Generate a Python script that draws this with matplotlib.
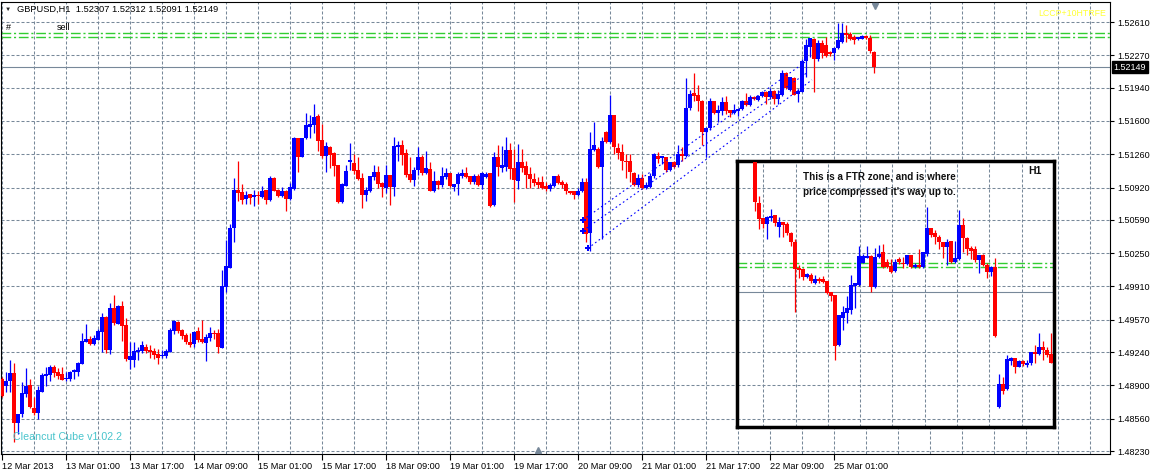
import numpy as np
import matplotlib
matplotlib.use('Agg')
from matplotlib import pyplot as plt
from matplotlib.transforms import blended_transform_factory

plt.rcParams['font.family'] = ['Liberation Sans', 'DejaVu Sans']

W, H = 1155, 475

# GBPUSD H1, bar 0 = 12 Mar 2013 09:00
opens = [
    1.4897, 1.4889, 1.4894, 1.4903, 1.4852, 1.4861, 1.4881, 1.4890, 1.4867, 1.4862,
    1.4883, 1.4900, 1.4901, 1.4909, 1.4904, 1.4902, 1.4897, 1.4897, 1.4904, 1.4904,
    1.4912, 1.4934, 1.4937, 1.4932, 1.4936, 1.4945, 1.4960, 1.4926, 1.4969, 1.4953,
    1.4971, 1.4952, 1.4916, 1.4916, 1.4924, 1.4925, 1.4929, 1.4926, 1.4925, 1.4922,
    1.4920, 1.4920, 1.4924, 1.4946, 1.4955, 1.4947, 1.4941, 1.4934, 1.4932, 1.4946,
    1.4937, 1.4933, 1.4938, 1.4943, 1.4944, 1.4928, 1.4990, 1.5010, 1.5051, 1.5090,
    1.5087, 1.5080, 1.5085, 1.5082, 1.5084, 1.5082, 1.5090, 1.5079, 1.5102, 1.5090,
    1.5083, 1.5088, 1.5080, 1.5091, 1.5143, 1.5123, 1.5143, 1.5154, 1.5156, 1.5165,
    1.5141, 1.5124, 1.5133, 1.5127, 1.5115, 1.5077, 1.5094, 1.5118, 1.5117, 1.5110,
    1.5102, 1.5084, 1.5089, 1.5103, 1.5108, 1.5097, 1.5092, 1.5105, 1.5093, 1.5133,
    1.5135, 1.5127, 1.5106, 1.5100, 1.5110, 1.5123, 1.5107, 1.5111, 1.5089, 1.5099,
    1.5095, 1.5103, 1.5107, 1.5093, 1.5096, 1.5104, 1.5107, 1.5104, 1.5098, 1.5104,
    1.5095, 1.5103, 1.5107, 1.5074, 1.5123, 1.5112, 1.5113, 1.5130, 1.5112, 1.5099,
    1.5118, 1.5114, 1.5106, 1.5101, 1.5098, 1.5098, 1.5094, 1.5091, 1.5094, 1.5104,
    1.5098, 1.5096, 1.5089, 1.5088, 1.5084, 1.5088, 1.5098, 1.5046, 1.5130, 1.5131,
    1.5113, 1.5149, 1.5139, 1.5166, 1.5132, 1.5128, 1.5119, 1.5119, 1.5107, 1.5095,
    1.5102, 1.5092, 1.5093, 1.5104, 1.5124, 1.5122, 1.5123, 1.5110, 1.5118, 1.5115,
    1.5126, 1.5124, 1.5173, 1.5189, 1.5186, 1.5180, 1.5149, 1.5153, 1.5180, 1.5168,
    1.5170, 1.5179, 1.5171, 1.5168, 1.5170, 1.5172, 1.5180, 1.5176, 1.5184, 1.5181,
    1.5185, 1.5190, 1.5184, 1.5191, 1.5182, 1.5187, 1.5209, 1.5192, 1.5204, 1.5188,
    1.5190, 1.5221, 1.5236, 1.5244, 1.5223, 1.5240, 1.5238, 1.5230, 1.5229, 1.5235,
    1.5241, 1.5250, 1.5249, 1.5246, 1.5244, 1.5244, 1.5247, 1.5245, 1.52307]
highs = [
    1.4899, 1.4904, 1.4916, 1.4913, 1.4861, 1.4893, 1.4908, 1.4897, 1.4878, 1.4889,
    1.4903, 1.4909, 1.4911, 1.4911, 1.4908, 1.4909, 1.4904, 1.4905, 1.4907, 1.4914,
    1.4944, 1.4953, 1.4940, 1.4941, 1.4948, 1.4964, 1.4961, 1.4974, 1.4982, 1.4972,
    1.4976, 1.4959, 1.4934, 1.4934, 1.4929, 1.4935, 1.4932, 1.4931, 1.4928, 1.4927,
    1.4926, 1.4927, 1.4949, 1.4957, 1.4956, 1.4948, 1.4943, 1.4943, 1.4946, 1.4950,
    1.4957, 1.4942, 1.4950, 1.4947, 1.4948, 1.5008, 1.5038, 1.5055, 1.5102, 1.5119,
    1.5096, 1.5088, 1.5085, 1.5090, 1.5089, 1.5094, 1.5090, 1.5104, 1.5103, 1.5091,
    1.5093, 1.5090, 1.5097, 1.5144, 1.5143, 1.5143, 1.5168, 1.5166, 1.5177, 1.5167,
    1.5157, 1.5139, 1.5134, 1.5128, 1.5115, 1.5097, 1.5115, 1.5137, 1.5126, 1.5123,
    1.5107, 1.5093, 1.5104, 1.5115, 1.5114, 1.5098, 1.5115, 1.5105, 1.5144, 1.5140,
    1.5141, 1.5131, 1.5123, 1.5113, 1.5133, 1.5125, 1.5129, 1.5118, 1.5109, 1.5100,
    1.5113, 1.5112, 1.5107, 1.5096, 1.5108, 1.5111, 1.5113, 1.5104, 1.5106, 1.5106,
    1.5108, 1.5108, 1.5107, 1.5128, 1.5135, 1.5134, 1.5144, 1.5138, 1.5131, 1.5136,
    1.5131, 1.5119, 1.5113, 1.5107, 1.5103, 1.5104, 1.5098, 1.5097, 1.5104, 1.5106,
    1.5100, 1.5098, 1.5089, 1.5088, 1.5092, 1.5102, 1.5102, 1.5149, 1.5159, 1.5133,
    1.5144, 1.5150, 1.5186, 1.5166, 1.5138, 1.5136, 1.5126, 1.5126, 1.5108, 1.5106,
    1.5106, 1.5098, 1.5107, 1.5127, 1.5128, 1.5124, 1.5123, 1.5118, 1.5119, 1.5135,
    1.5133, 1.5204, 1.5192, 1.5209, 1.5197, 1.5181, 1.5154, 1.5183, 1.5180, 1.5176,
    1.5184, 1.5185, 1.5171, 1.5177, 1.5172, 1.5181, 1.5189, 1.5187, 1.5185, 1.5186,
    1.5191, 1.5191, 1.5194, 1.5192, 1.5192, 1.5212, 1.5210, 1.5205, 1.5205, 1.5193,
    1.5223, 1.5244, 1.5245, 1.5245, 1.5243, 1.5243, 1.5246, 1.5231, 1.5236, 1.5260,
    1.5260, 1.5258, 1.5251, 1.5248, 1.5246, 1.5248, 1.5248, 1.5248, 1.52312]
lows = [
    1.4878, 1.4883, 1.4883, 1.4832, 1.4840, 1.4858, 1.4878, 1.4867, 1.4860, 1.4856,
    1.4883, 1.4889, 1.4895, 1.4899, 1.4897, 1.4896, 1.4895, 1.4895, 1.4897, 1.4900,
    1.4912, 1.4934, 1.4931, 1.4931, 1.4936, 1.4924, 1.4923, 1.4922, 1.4952, 1.4953,
    1.4935, 1.4915, 1.4907, 1.4909, 1.4916, 1.4923, 1.4923, 1.4918, 1.4917, 1.4912,
    1.4918, 1.4918, 1.4924, 1.4942, 1.4944, 1.4937, 1.4932, 1.4929, 1.4929, 1.4934,
    1.4933, 1.4915, 1.4935, 1.4937, 1.4923, 1.4928, 1.4985, 1.5010, 1.5036, 1.5078,
    1.5075, 1.5075, 1.5075, 1.5073, 1.5075, 1.5081, 1.5075, 1.5078, 1.5088, 1.5082,
    1.5082, 1.5068, 1.5079, 1.5090, 1.5108, 1.5123, 1.5142, 1.5143, 1.5148, 1.5129,
    1.5122, 1.5108, 1.5112, 1.5104, 1.5076, 1.5076, 1.5094, 1.5110, 1.5106, 1.5100,
    1.5071, 1.5078, 1.5087, 1.5100, 1.5092, 1.5082, 1.5086, 1.5074, 1.5083, 1.5119,
    1.5115, 1.5103, 1.5098, 1.5094, 1.5105, 1.5105, 1.5106, 1.5088, 1.5087, 1.5091,
    1.5093, 1.5101, 1.5093, 1.5089, 1.5084, 1.5102, 1.5102, 1.5096, 1.5096, 1.5094,
    1.5091, 1.5102, 1.5072, 1.5073, 1.5104, 1.5108, 1.5109, 1.5101, 1.5077, 1.5091,
    1.5108, 1.5092, 1.5092, 1.5094, 1.5092, 1.5091, 1.5088, 1.5088, 1.5093, 1.5096,
    1.5092, 1.5085, 1.5085, 1.5080, 1.5083, 1.5087, 1.5036, 1.5027, 1.5129, 1.5112,
    1.5039, 1.5138, 1.5137, 1.5126, 1.5121, 1.5110, 1.5102, 1.5098, 1.5094, 1.5093,
    1.5091, 1.5091, 1.5092, 1.5102, 1.5117, 1.5116, 1.5108, 1.5109, 1.5112, 1.5113,
    1.5119, 1.5123, 1.5171, 1.5180, 1.5170, 1.5135, 1.5123, 1.5151, 1.5167, 1.5159,
    1.5166, 1.5167, 1.5164, 1.5167, 1.5165, 1.5171, 1.5175, 1.5175, 1.5181, 1.5180,
    1.5184, 1.5177, 1.5182, 1.5177, 1.5177, 1.5185, 1.5193, 1.5191, 1.5186, 1.5179,
    1.5190, 1.5205, 1.5225, 1.5190, 1.5221, 1.5224, 1.5225, 1.5226, 1.5222, 1.5233,
    1.5240, 1.5241, 1.5243, 1.5239, 1.5243, 1.5244, 1.5244, 1.5229, 1.52091]
closes = [
    1.4879, 1.4895, 1.4903, 1.4852, 1.4861, 1.4882, 1.4889, 1.4868, 1.4862, 1.4885,
    1.4901, 1.4902, 1.4909, 1.4903, 1.4900, 1.4896, 1.4898, 1.4904, 1.4906, 1.4913,
    1.4935, 1.4937, 1.4932, 1.4938, 1.4946, 1.4960, 1.4926, 1.4969, 1.4954, 1.4971,
    1.4951, 1.4917, 1.4920, 1.4925, 1.4926, 1.4931, 1.4925, 1.4924, 1.4921, 1.4918,
    1.4921, 1.4925, 1.4947, 1.4956, 1.4946, 1.4940, 1.4934, 1.4931, 1.4945, 1.4936,
    1.4934, 1.4939, 1.4944, 1.4942, 1.4929, 1.4991, 1.5012, 1.5051, 1.5090, 1.5086,
    1.5079, 1.5084, 1.5081, 1.5084, 1.5083, 1.5089, 1.5079, 1.5102, 1.5089, 1.5083,
    1.5088, 1.5080, 1.5093, 1.5143, 1.5123, 1.5143, 1.5156, 1.5157, 1.5164, 1.5140,
    1.5124, 1.5134, 1.5125, 1.5114, 1.5077, 1.5096, 1.5109, 1.5120, 1.5109, 1.5101,
    1.5084, 1.5090, 1.5104, 1.5108, 1.5096, 1.5093, 1.5105, 1.5093, 1.5134, 1.5135,
    1.5125, 1.5105, 1.5100, 1.5110, 1.5123, 1.5107, 1.5112, 1.5089, 1.5099, 1.5095,
    1.5104, 1.5107, 1.5094, 1.5096, 1.5106, 1.5107, 1.5103, 1.5098, 1.5104, 1.5095,
    1.5107, 1.5106, 1.5073, 1.5123, 1.5113, 1.5115, 1.5130, 1.5111, 1.5100, 1.5118,
    1.5112, 1.5105, 1.5101, 1.5097, 1.5095, 1.5092, 1.5091, 1.5095, 1.5104, 1.5097,
    1.5095, 1.5088, 1.5086, 1.5084, 1.5089, 1.5098, 1.5045, 1.5131, 1.5135, 1.5113,
    1.5140, 1.5139, 1.5166, 1.5133, 1.5127, 1.5119, 1.5118, 1.5108, 1.5095, 1.5102,
    1.5092, 1.5095, 1.5104, 1.5126, 1.5121, 1.5124, 1.5110, 1.5118, 1.5113, 1.5126,
    1.5124, 1.5173, 1.5188, 1.5185, 1.5180, 1.5149, 1.5153, 1.5180, 1.5168, 1.5171,
    1.5179, 1.5170, 1.5168, 1.5171, 1.5172, 1.5180, 1.5176, 1.5184, 1.5182, 1.5185,
    1.5190, 1.5184, 1.5191, 1.5182, 1.5188, 1.5209, 1.5194, 1.5205, 1.5187, 1.5191,
    1.5221, 1.5238, 1.5245, 1.5223, 1.5240, 1.5229, 1.5226, 1.5228, 1.5235, 1.5243,
    1.5250, 1.5248, 1.5244, 1.5243, 1.5246, 1.5247, 1.5245, 1.5231, 1.52149]

price_ticks = [1.52610, 1.52270, 1.51940, 1.51600, 1.51260, 1.50920, 1.50590,
               1.50250, 1.49910, 1.49570, 1.49240, 1.48900, 1.48560, 1.48230]
time_ticks = [0, 16, 32, 48, 64, 80, 96, 112, 128, 144, 160, 176, 192, 208]
time_labels = ['12 Mar 2013', '13 Mar 01:00', '13 Mar 17:00', '14 Mar 09:00',
               '15 Mar 01:00', '15 Mar 17:00', '18 Mar 09:00', '19 Mar 01:00',
               '19 Mar 17:00', '20 Mar 09:00', '21 Mar 01:00', '21 Mar 17:00',
               '22 Mar 09:00', '25 Mar 01:00']
last_price = 1.52149
header = 'GBPUSD,H1  1.52307 1.52312 1.52091 1.52149'
green_levels = [1.5250, 1.5246]

# dotted channel lines: (bar, price) -> (bar, price)
channel_start_bar = [145.25, 145.25, 146.5]
channel_start_price = [1.5059, 1.5048, 1.5030]
channel_end_bar = [200.75, 201.5, 202.5]
channel_end_price = [1.5220, 1.5210, 1.5202]

# pasted H1 screenshot inside the box
inset_opens = [
    1.5118, 1.5076, 1.5061, 1.5055, 1.5061, 1.5064, 1.5052, 1.5057, 1.5055, 1.5046,
    1.5036, 1.5010, 1.5009, 1.5001, 1.5003, 1.4995, 1.4999, 1.4999, 1.4997, 1.4985,
    1.4982, 1.4931, 1.4959, 1.4964, 1.4967, 1.4992, 1.4993, 1.5015, 1.5020, 1.5022,
    1.4990, 1.5021, 1.5026, 1.5016, 1.5012, 1.5007, 1.5019, 1.5015, 1.5014, 1.5023,
    1.5011, 1.5013, 1.5011, 1.5024, 1.5051, 1.5046, 1.5042, 1.5036, 1.5031, 1.5037,
    1.5016, 1.5019, 1.5054, 1.5041, 1.5030, 1.5029, 1.5018, 1.5023, 1.5013, 1.5006,
    1.5011, 1.4868, 1.4891, 1.4886, 1.4915, 1.4918, 1.4909, 1.4915, 1.4911, 1.4913,
    1.4924, 1.4922, 1.4929, 1.4926, 1.4922]
inset_highs = [
    1.5118, 1.5083, 1.5061, 1.5063, 1.5070, 1.5064, 1.5062, 1.5057, 1.5057, 1.5047,
    1.5039, 1.5013, 1.5010, 1.5005, 1.5005, 1.5003, 1.5001, 1.5002, 1.4997, 1.4985,
    1.4982, 1.4962, 1.4971, 1.4981, 1.5003, 1.4995, 1.5032, 1.5024, 1.5032, 1.5023,
    1.5030, 1.5033, 1.5034, 1.5019, 1.5019, 1.5019, 1.5021, 1.5021, 1.5023, 1.5023,
    1.5015, 1.5029, 1.5026, 1.5072, 1.5051, 1.5049, 1.5044, 1.5036, 1.5039, 1.5037,
    1.5037, 1.5069, 1.5061, 1.5042, 1.5032, 1.5032, 1.5023, 1.5024, 1.5015, 1.5012,
    1.5020, 1.4902, 1.4899, 1.4921, 1.4919, 1.4918, 1.4916, 1.4916, 1.4916, 1.4924,
    1.4931, 1.4944, 1.4935, 1.4929, 1.4943]
inset_lows = [
    1.5068, 1.5050, 1.5051, 1.5039, 1.5058, 1.5053, 1.5042, 1.5042, 1.5044, 1.5032,
    1.4965, 1.5000, 1.4998, 1.5000, 1.4995, 1.4994, 1.4995, 1.4995, 1.4983, 1.4976,
    1.4916, 1.4930, 1.4947, 1.4954, 1.4963, 1.4969, 1.4991, 1.5015, 1.5020, 1.4985,
    1.4989, 1.5020, 1.5010, 1.5010, 1.5005, 1.5006, 1.5014, 1.5010, 1.5013, 1.5010,
    1.5010, 1.5010, 1.5010, 1.5022, 1.5042, 1.5034, 1.5029, 1.5020, 1.5013, 1.5015,
    1.5015, 1.5018, 1.5026, 1.5023, 1.5019, 1.5016, 1.5005, 1.5012, 1.5000, 1.5002,
    1.4939, 1.4867, 1.4881, 1.4885, 1.4911, 1.4903, 1.4909, 1.4910, 1.4909, 1.4911,
    1.4913, 1.4921, 1.4916, 1.4919, 1.4913]
inset_closes = [
    1.5077, 1.5060, 1.5055, 1.5062, 1.5063, 1.5056, 1.5057, 1.5054, 1.5046, 1.5036,
    1.5009, 1.5008, 1.5001, 1.5004, 1.4997, 1.4999, 1.4997, 1.4996, 1.4984, 1.4981,
    1.4930, 1.4962, 1.4965, 1.4969, 1.4993, 1.4995, 1.5022, 1.5022, 1.5022, 1.4990,
    1.5021, 1.5024, 1.5011, 1.5011, 1.5006, 1.5016, 1.5016, 1.5014, 1.5023, 1.5011,
    1.5013, 1.5011, 1.5026, 1.5051, 1.5044, 1.5042, 1.5036, 1.5031, 1.5036, 1.5016,
    1.5020, 1.5054, 1.5041, 1.5029, 1.5027, 1.5018, 1.5023, 1.5013, 1.5006, 1.5011,
    1.4940, 1.4891, 1.4884, 1.4917, 1.4918, 1.4909, 1.4915, 1.4912, 1.4913, 1.4924,
    1.4922, 1.4929, 1.4926, 1.4921, 1.4913]
inset_green = [1.5015, 1.5011]
inset_grey = 1.4985

BULL, BEAR = '#0000ff', '#ff0000'
GRID = '#778899'
GREEN = '#32cd32'


def draw_candles(ax, o, h, l, c):
    o, h, l, c = (np.asarray(v) for v in (o, h, l, c))
    x = np.arange(len(o))
    colors = np.where(c >= o, BULL, BEAR)
    ax.vlines(x, l, h, colors=colors, lw=0.9, zorder=3)
    body = np.maximum(np.abs(c - o), 0.00009)
    ax.bar(x, body, width=0.8, bottom=np.minimum(o, c), color=colors, lw=0, zorder=4)


def grid(ax, xs, ys):
    for x in xs:
        ax.axvline(x, color=GRID, lw=0.75, ls=(0, (2.9, 1.9)), zorder=1)
    for y in ys:
        ax.axhline(y, color=GRID, lw=0.75, ls=(0, (2.9, 1.9)), zorder=1)


fig = plt.figure(figsize=(W / 100, H / 100), dpi=100)
ax = fig.add_axes([1 / W, (H - 454) / H, 1109 / W, 452 / H])
ax.set_xlim(-0.25, 277.0)
ax.set_ylim(1.481997, 1.528146)

grid(ax, range(0, 277, 8), price_ticks)
for lv in green_levels:
    ax.axhline(lv, color=GREEN, lw=1.0, ls=(0, (7, 2, 1.5, 2)), zorder=2)
ax.axhline(last_price, color=GRID, lw=0.8, zorder=2)

draw_candles(ax, opens, highs, lows, closes)

for xs, ps, xe, pe in zip(channel_start_bar, channel_start_price, channel_end_bar, channel_end_price):
    ax.plot([xs, xe], [ps, pe], color=BULL, lw=0.8, ls=(0, (1.5, 2.5)), zorder=5)
    ax.plot(xs, ps, marker='P', ms=5, color=BULL, mew=0, zorder=6)

for s in ax.spines.values():
    s.set_linewidth(0.8)
ax.yaxis.tick_right()
ax.set_yticks(price_ticks)
ax.set_yticklabels(['%.5f' % p for p in price_ticks])
ax.set_xticks(time_ticks)
ax.set_xticklabels(time_labels, ha='left')
ax.tick_params(axis='y', length=3, width=0.8, pad=2, labelsize=6.5)
ax.tick_params(axis='x', length=4, width=0.8, pad=2, labelsize=6.6)

tr = blended_transform_factory(ax.transAxes, ax.transData)
ax.text(1.003, last_price, '1.52149', transform=tr, color='white', fontsize=6.5,
        va='center', ha='left', clip_on=False,
        bbox=dict(facecolor='black', edgecolor='black', boxstyle='square,pad=0.2'))

# shift markers
ax.plot(0.788, 0.992, marker='v', ms=4.5, color=GRID, transform=ax.transAxes, clip_on=False, zorder=7)
ax.plot(0.484, 0.008, marker='^', ms=4.5, color=GRID, transform=ax.transAxes, clip_on=False, zorder=7)

fig.text(5 / W, 1 - 9 / H, '\u25bc', fontsize=4.5, va='center', color='#222222')
fig.text(17 / W, 1 - 9 / H, header, fontsize=6.7, va='center', color='black')
fig.text(6 / W, 1 - 27 / H, '#', fontsize=6.5, va='center', color='black')
fig.text(57 / W, 1 - 27 / H, 'sell', fontsize=6.5, va='center', color='black')
fig.text(1106 / W, 1 - 13 / H, 'LCCP+10HTRFE', fontsize=6.3, va='center', ha='right', color='#ffff33')
fig.text(13 / W, 1 - 437 / H, 'Cleancut Cube v1.02.2', fontsize=7.7, va='center', color='#48c4cc')

# inset box
iax = fig.add_axes([736.5 / W, (H - 426.5) / H, 317.7 / W, 266 / H])
iax.set_facecolor('white')
iax.set_xlim(-4.6, 74.8)
iax.set_ylim(1.484804, 1.511963)
grid(iax, [2.1 + 8.07 * k for k in range(10)], price_ticks)
for lv in inset_green:
    iax.axhline(lv, color=GREEN, lw=1.0, ls=(0, (7, 2, 1.5, 2)), zorder=2)
iax.axhline(inset_grey, color=GRID, lw=0.8, zorder=2)
draw_candles(iax, inset_opens, inset_highs, inset_lows, inset_closes)
iax.set_xticks([])
iax.set_yticks([])
for s in iax.spines.values():
    s.set_linewidth(2.5)
iax.text(0.209, 0.938, 'This is a FTR zone, and is where', transform=iax.transAxes,
         fontsize=7.1, fontweight='bold', va='center', color='#101010')
iax.text(0.209, 0.882, "price compressed it's way up to.", transform=iax.transAxes,
         fontsize=7.1, fontweight='bold', va='center', color='#101010')
iax.text(0.94, 0.96, 'H1', transform=iax.transAxes, fontsize=7.5, fontweight='bold',
         va='center', ha='center', color='#101010')

fig.savefig('out.png', dpi=100)
